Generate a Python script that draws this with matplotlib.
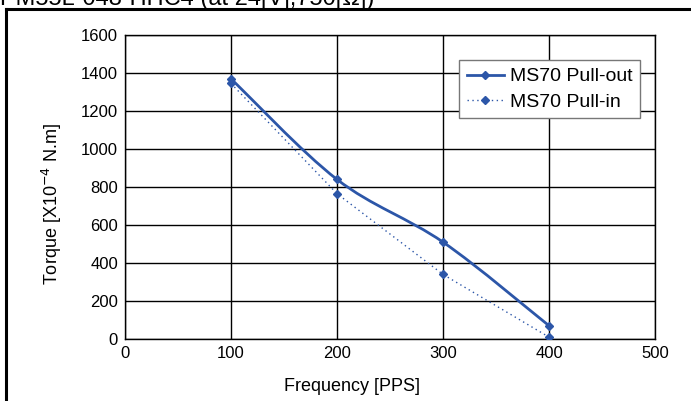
import matplotlib
matplotlib.use("Agg")
import matplotlib.pyplot as plt
from matplotlib.path import Path
from matplotlib.patches import PathPatch
from matplotlib.lines import Line2D

plt.rcParams['font.family'] = ['Liberation Sans', 'DejaVu Sans']

freq = [100, 200, 300, 400]
pull_out = [1370, 840, 510, 70]
pull_in = [1345, 765, 340, 10]
x_ticks = [0, 100, 200, 300, 400, 500]
y_ticks = [0, 200, 400, 600, 800, 1000, 1200, 1400, 1600]

blue = '#2c56a8'


def smooth_path(xs, ys, t=1 / 6):
    # excel-like smoothed line: cubic bezier segments through the points
    pts = list(zip(xs, ys))
    verts = [pts[0]]
    codes = [Path.MOVETO]
    n = len(pts)
    for i in range(n - 1):
        p0 = pts[i - 1] if i > 0 else pts[i]
        p1 = pts[i]
        p2 = pts[i + 1]
        p3 = pts[i + 2] if i + 2 < n else pts[i + 1]
        c1 = (p1[0] + (p2[0] - p0[0]) * t, p1[1] + (p2[1] - p0[1]) * t)
        c2 = (p2[0] - (p3[0] - p1[0]) * t, p2[1] - (p3[1] - p1[1]) * t)
        verts += [c1, c2, p2]
        codes += [Path.CURVE4] * 3
    return Path(verts, codes)


fig = plt.figure(figsize=(6.91, 4.01), dpi=100)
ax = fig.add_axes([125 / 691, 1 - 339 / 401, 530 / 691, 304 / 401])

ax.add_patch(PathPatch(smooth_path(freq, pull_out), fill=False, edgecolor=blue, lw=2.0, zorder=3))
ax.plot(freq, pull_out, ls='none', marker='D', ms=4.5, color=blue, zorder=4)
ax.plot(freq, pull_in, ls=(0, (1, 2.5)), lw=1.0, marker='D', ms=4, color=blue, zorder=4)

ax.set_xlim(0, 500)
ax.set_ylim(0, 1600)
ax.set_xticks(x_ticks)
ax.set_yticks(y_ticks)
ax.tick_params(length=0, labelsize=12, pad=5)
ax.grid(True, color='black', lw=1.0)
ax.set_axisbelow(True)
for s in ax.spines.values():
    s.set_color('black')
    s.set_linewidth(1.0)

ax.set_xlabel('Frequency [PPS]', fontsize=13)
ax.set_ylabel('Torque [X10$^{-4}$ N.m]', fontsize=13)
ax.xaxis.set_label_coords(0.428, -0.128)
ax.yaxis.set_label_coords(-0.115, 0.445)

handles = [
    Line2D([], [], color=blue, lw=2.0, marker='D', ms=4.5),
    Line2D([], [], color=blue, lw=1.0, ls=(0, (1, 2.5)), marker='D', ms=4),
]
leg = ax.legend(handles, ['MS70 Pull-out', 'MS70 Pull-in'], loc='upper right',
                bbox_to_anchor=(0.972, 0.918), borderaxespad=0, fontsize=14,
                fancybox=False, framealpha=1, edgecolor='#777777',
                handlelength=1.9, handletextpad=0.3, labelspacing=0.4,
                borderpad=0.4)
leg.get_frame().set_linewidth(1.0)

# outer frame of the cropped figure
fig.add_artist(Line2D([6 / 691, 6 / 691], [0, 1 - 9 / 401], color='black', lw=2.2, transform=fig.transFigure))
fig.add_artist(Line2D([6 / 691, 1], [1 - 9 / 401, 1 - 9 / 401], color='black', lw=2.2, transform=fig.transFigure))

# title cut off at the top edge, as in the scanned original
fig.text(0.0, 1 - 5 / 401, 'PM55L-048-HHC4 (at 24[V],750[\u03a9])', fontsize=17,
         va='baseline', ha='left')

fig.savefig('out.png', dpi=100)
